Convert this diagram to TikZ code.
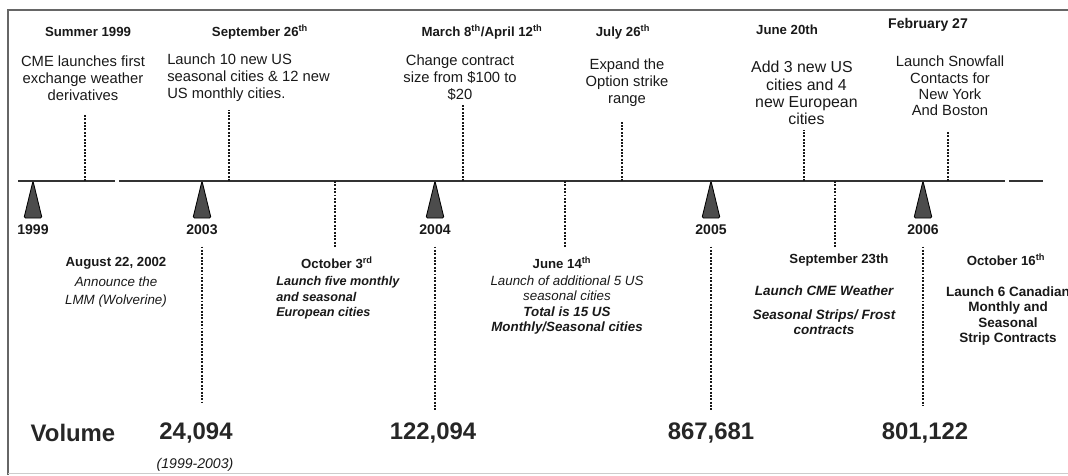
\documentclass[tikz,border=0pt]{standalone}
\usepackage{fontspec}
\setmainfont{Liberation Sans}
\usetikzlibrary{positioning}

\begin{document}
\begin{tikzpicture}[x=0.25mm,y=-0.25mm,
  title/.style={font=\fontsize{9.4}{11}\selectfont\bfseries, inner sep=0pt, text=black!90},
  toptext/.style={font=\fontsize{10.5}{12.2}\selectfont, align=center, inner sep=0pt, text=black!90},
  lowtext/.style={font=\fontsize{9.5}{11}\selectfont\itshape, align=center, inner sep=0pt, text=black!90},
  yearlbl/.style={font=\fontsize{10}{12}\selectfont\bfseries, inner sep=0pt, text=black!90},
  volnum/.style={font=\fontsize{17}{20}\selectfont\bfseries, inner sep=0pt, text=black!85},
  axis/.style={line width=1.5pt, draw=black!80},
  dots/.style={line width=1.8pt, draw=black!90, dash pattern=on 1.4pt off 1pt},
  marker/.style={fill=black!70, draw=black, line width=0.6pt, line join=round, rounded corners=1pt}]
\useasboundingbox (0,0) rectangle (1068,475);
\draw [line width=1.6pt, black!60] (1068,10) -- (8,10) -- (8,475);
\draw [line width=0.6pt, black!20] (8,473) -- (1068,473);
\draw [axis] (18,181) -- (115,181);
\draw [axis] (119,181) -- (1005,181);
\draw [axis] (1009,181) -- (1043,181);
\filldraw [marker] (33,181) -- (24,218) -- (42,218) -- cycle;
\filldraw [marker] (202,181) -- (193,218) -- (211,218) -- cycle;
\filldraw [marker] (435,181) -- (426,218) -- (444,218) -- cycle;
\filldraw [marker] (711,181) -- (702,218) -- (720,218) -- cycle;
\filldraw [marker] (923,181) -- (914,218) -- (932,218) -- cycle;
\node [yearlbl] (yr1999) at (33,230) {1999};
\node [yearlbl] (yr2003) at (202,230) {2003};
\node [yearlbl] (yr2004) at (435,230) {2004};
\node [yearlbl] (yr2005) at (711,230) {2005};
\node [yearlbl] (yr2006) at (923,230) {2006};
\node [volnum] (vollbl) at (73,433) {Volume};
\node [volnum] (vol2003) at (196,433) {24,094};
\node [volnum] (vol2004) at (433,433) {122,094};
\node [volnum] (vol2005) at (711,433) {867,681};
\node [volnum] (vol2006) at (925,433) {801,122};
\node [lowtext, font=\fontsize{10}{12}\selectfont\itshape] (span2003) at (195,465) {(1999-2003)};
\draw [dots, shorten <=8pt, shorten >=14pt] (yr2003.south) -- (yr2003.south |- vol2003.north);
\draw [dots, shorten <=8pt, shorten >=8pt] (yr2004.south) -- (yr2004.south |- vol2004.north);
\draw [dots, shorten <=8pt, shorten >=8pt] (yr2005.south) -- (yr2005.south |- vol2005.north);
\draw [dots, shorten <=8pt, shorten >=12pt] (yr2006.south) -- (yr2006.south |- vol2006.north);
\node [title] (sum99) at (88,32) {Summer 1999};
\node [toptext] (cme) at (83,78) {CME launches first\\exchange weather\\derivatives};
\node [title] (sep26) at (260,32) {September 26\textsuperscript{th}};
\node [toptext, align=left, anchor=west] (tenus) at (167,78) {Launch 10 new US\\seasonal cities \& 12 new\\US monthly cities.};
\node [title] (mar8) at (482,32) {March 8\textsuperscript{th}/April 12\textsuperscript{th}};
\node [toptext] (size) at (460,78) {Change contract\\size from \$100 to\\\$20};
\node [title] (jul26) at (623,32) {July 26\textsuperscript{th}};
\node [toptext] (strike) at (627,83) {Expand the\\Option strike\\range};
\node [title] (jun20) at (787,30) {June 20th};
\node [toptext, font=\fontsize{11.3}{12.2}\selectfont] (euro) at (802,93) {Add 3 new US\\\ \ cities and 4\\\ \ new European\\\ \ cities};
\node [title, font=\fontsize{10}{12}\selectfont\bfseries] (feb27) at (928,25) {February 27};
\node [toptext, font=\fontsize{10.5}{11.6}\selectfont] (snow) at (950,86) {Launch Snowfall\\Contacts for\\New York\\And Boston};
\coordinate (d1a) at (85,181);
\coordinate (d1b) at (85,115);
\coordinate (d2a) at (229,181);
\coordinate (d2b) at (229,110);
\coordinate (d3a) at (463,181);
\coordinate (d3b) at (463,105);
\coordinate (d4a) at (622,181);
\coordinate (d4b) at (622,122);
\coordinate (d5a) at (804,181);
\coordinate (d5b) at (804,130);
\coordinate (d6a) at (948,181);
\coordinate (d6b) at (948,132);
\draw [dots] (d1a) -- (d1b);
\draw [dots] (d2a) -- (d2b);
\draw [dots] (d3a) -- (d3b);
\draw [dots] (d4a) -- (d4b);
\draw [dots] (d5a) -- (d5b);
\draw [dots] (d6a) -- (d6b);
\node [title] (aug22) at (116,263) {August 22, 2002};
\node [lowtext, font=\fontsize{9.5}{13}\selectfont\itshape] (lmm) at (116,292) {Announce the\\LMM (Wolverine)};
\node [title] (oct3) at (337,263) {October 3\textsuperscript{rd}};
\node [lowtext, align=left, anchor=west, font=\fontsize{9}{11}\selectfont\bfseries\itshape] (five) at (276,298) {Launch five monthly\\and seasonal\\European cities};
\node [title] (jun14) at (562,263) {June 14\textsuperscript{th}};
\node [lowtext] (addl) at (567,305) {Launch of additional 5 US\\seasonal cities\\\textbf{Total is 15 US}\\\textbf{Monthly/Seasonal cities}};
\node [title] (sep23) at (839,260) {September 23th};
\node [lowtext, font=\fontsize{9.6}{11}\selectfont\bfseries\itshape] (frost) at (824,310) {Launch CME Weather\\[6pt]Seasonal Strips/ Frost\\contracts};
\node [title] (oct16) at (1006,260) {October 16\textsuperscript{th}};
\node [lowtext, font=\fontsize{9.6}{11}\selectfont\bfseries] (canada) at (1008,316) {Launch 6 Canadian\\Monthly and\\Seasonal\\Strip Contracts};
\coordinate (e1a) at (335,181);
\coordinate (e1b) at (335,248);
\coordinate (e2a) at (565,181);
\coordinate (e2b) at (565,248);
\coordinate (e3a) at (835,181);
\coordinate (e3b) at (835,248);
\draw [dots] (e1a) -- (e1b);
\draw [dots] (e2a) -- (e2b);
\draw [dots] (e3a) -- (e3b);
\end{tikzpicture}
\end{document}
